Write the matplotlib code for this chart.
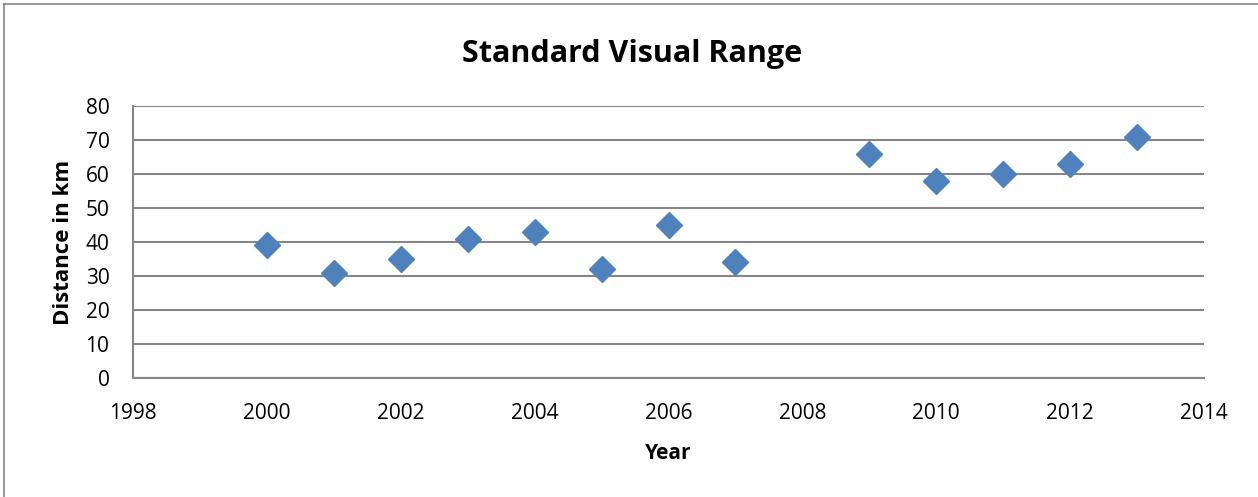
import matplotlib
matplotlib.use("Agg")
import matplotlib.pyplot as plt
from matplotlib.lines import Line2D

# данные
years = [2000, 2001, 2002, 2003, 2004, 2005, 2006, 2007, 2009, 2010, 2011, 2012, 2013]
distance = [39, 31, 35, 41, 43, 32, 45, 34, 66, 58, 60, 63, 71]
x_ticks = list(range(1998, 2015, 2))
y_ticks = list(range(0, 81, 10))

plt.rcParams['font.family'] = ['Open Sans', 'DejaVu Sans']

fig = plt.figure(figsize=(12.58, 4.97), dpi=100)
ax = fig.add_axes([133 / 1258, 1 - 378 / 497, (1204 - 133) / 1258, (378 - 106) / 497])

grid_color = "#868686"
ax.set_xlim(1998, 2014)
ax.set_ylim(0, 80)
ax.set_xticks(x_ticks)
ax.set_yticks(y_ticks)
ax.tick_params(length=0, labelsize=15, pad=17)
ax.tick_params(axis='x', pad=18)
ax.yaxis.grid(True, color=grid_color, linewidth=1.5)
ax.set_axisbelow(True)
for side in ("top", "right"):
    ax.spines[side].set_visible(False)
for side in ("left", "bottom"):
    ax.spines[side].set_color(grid_color)
    ax.spines[side].set_linewidth(1.5)

ax.plot(years, distance, linestyle="none", marker="D", markersize=13,
        color="#4F81BD", markeredgecolor="#4F81BD", clip_on=False, zorder=3)

fig.text(632 / 1258, 1 - 54 / 497, "Standard Visual Range", ha="center", va="center",
         fontsize=22, fontweight="bold")
ax.set_xlabel("Year", fontsize=15, fontweight="bold", labelpad=14)
ax.set_ylabel("Distance in km", fontsize=16, fontweight="bold", labelpad=8)

# рамка вокруг диаграммы
fig.add_artist(Line2D([4 / 1258, 4 / 1258], [0, 1 - 4 / 497], transform=fig.transFigure,
                      color="#868686", linewidth=1.2))
fig.add_artist(Line2D([4 / 1258, 1], [1 - 4 / 497, 1 - 4 / 497], transform=fig.transFigure,
                      color="#868686", linewidth=1.2))

fig.savefig("out.png", dpi=100)
